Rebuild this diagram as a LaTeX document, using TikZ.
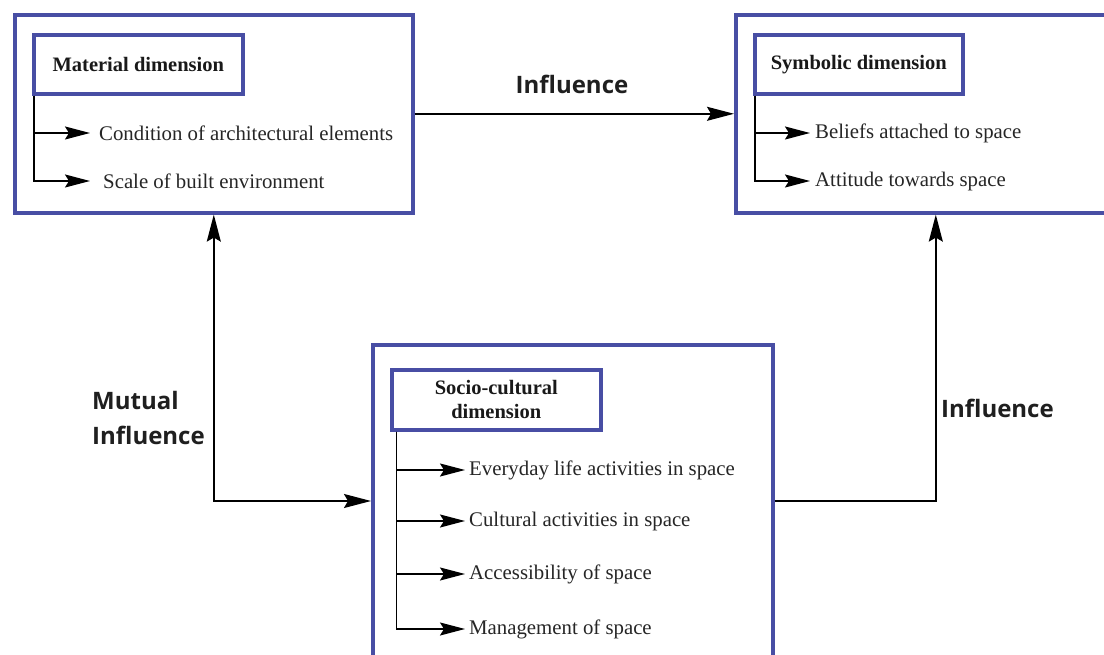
\documentclass[tikz,border=0pt]{standalone}
\usepackage{fontspec}
\setmainfont{Liberation Serif}
\newfontfamily\labelfont{Open Sans}
\usetikzlibrary{arrows.meta}
\definecolor{frameblue}{RGB}{72,78,164}
\begin{document}
\begin{tikzpicture}[x=1pt,y=-1pt,
  outerbox/.style={draw=frameblue,line width=3.6pt,inner sep=0,anchor=north west},
  headbox/.style={draw=frameblue,line width=3.6pt,inner sep=0,anchor=north west,
    font=\fontsize{20.5}{24}\selectfont\bfseries,align=center,text=black!90},
  item/.style={anchor=west,inner sep=0,font=\fontsize{20.8}{24}\selectfont,text=black!85},
  tag/.style={font=\labelfont\bfseries\fontsize{24}{35}\selectfont,text=black!88,inner sep=0},
  sub/.style={line width=1.6pt,-{Stealth[length=25pt,width=13pt,inset=4pt]}},
  main/.style={line width=1.6pt,-{Stealth[length=27pt,width=14pt,inset=4pt]}},
  both/.style={line width=1.6pt,{Stealth[length=27pt,width=14pt,inset=4pt]}-{Stealth[length=27pt,width=14pt,inset=4pt]}}]
\useasboundingbox (0,0) rectangle (1104,655);
\clip (0,0) rectangle (1104,655);
\fill[white] (0,0) rectangle (1104,655);

% Material dimension
\node[outerbox,minimum width=398pt,minimum height=198pt] (mat) at (13,13) {};
\node[headbox,minimum width=209pt,minimum height=59pt] (mhd) at (32,33) {Material dimension};
\node[item] (m1) at (99,133) {Condition of architectural elements};
\node[item] (m2) at (103,181) {Scale of built environment};
\draw[sub] ([xshift=1.8pt]mhd.south west) |- ([xshift=-9pt]m1.west);
\draw[sub] ([xshift=1.8pt]mhd.south west) |- ([xshift=-13pt]m2.west);

% Symbolic dimension
\node[outerbox,minimum width=390pt,minimum height=198pt] (sym) at (734,13) {};
\node[headbox,minimum width=208pt,minimum height=59pt] (shd) at (753,33) {Symbolic dimension};
\node[item] (s1) at (815,133) {Beliefs attached to space};
\node[item] (s2) at (815,181) {Attitude towards space};
\draw[sub] ([xshift=1.8pt]shd.south west) |- ([xshift=-5pt]s1.west);
\draw[sub] ([xshift=1.8pt]shd.south west) |- ([xshift=-5pt]s2.west);

% Socio-cultural dimension
\node[outerbox,minimum width=400pt,minimum height=320pt] (soc) at (371,343) {};
\node[headbox,minimum width=209pt,minimum height=60pt] (chd) at (390,368) {Socio-cultural\\dimension};
\node[item] (c1) at (469,470) {Everyday life activities in space};
\node[item] (c2) at (469,521) {Cultural activities in space};
\node[item] (c3) at (469,574) {Accessibility of space};
\node[item] (c4) at (469,629) {Management of space};
\foreach \c in {c1,c2,c3,c4}
  \draw[sub] ([xshift=6.5pt]chd.south west) |- ([xshift=-4pt]\c.west);

% Links between the dimensions
\draw[main] (mat) -- (sym);
\node[tag] (lt) at (572,84) {Influence};
\draw[both] (mat.south) |- (soc.west |- 0,501);
\node[tag,align=left,anchor=west] (lm) at (92,418) {Mutual\\Influence};
\draw[main] (soc.east |- 0,501) -| ([xshift=5pt]sym.south);
\node[tag,anchor=west] (lr) at (941,408) {Influence};
\end{tikzpicture}
\end{document}
